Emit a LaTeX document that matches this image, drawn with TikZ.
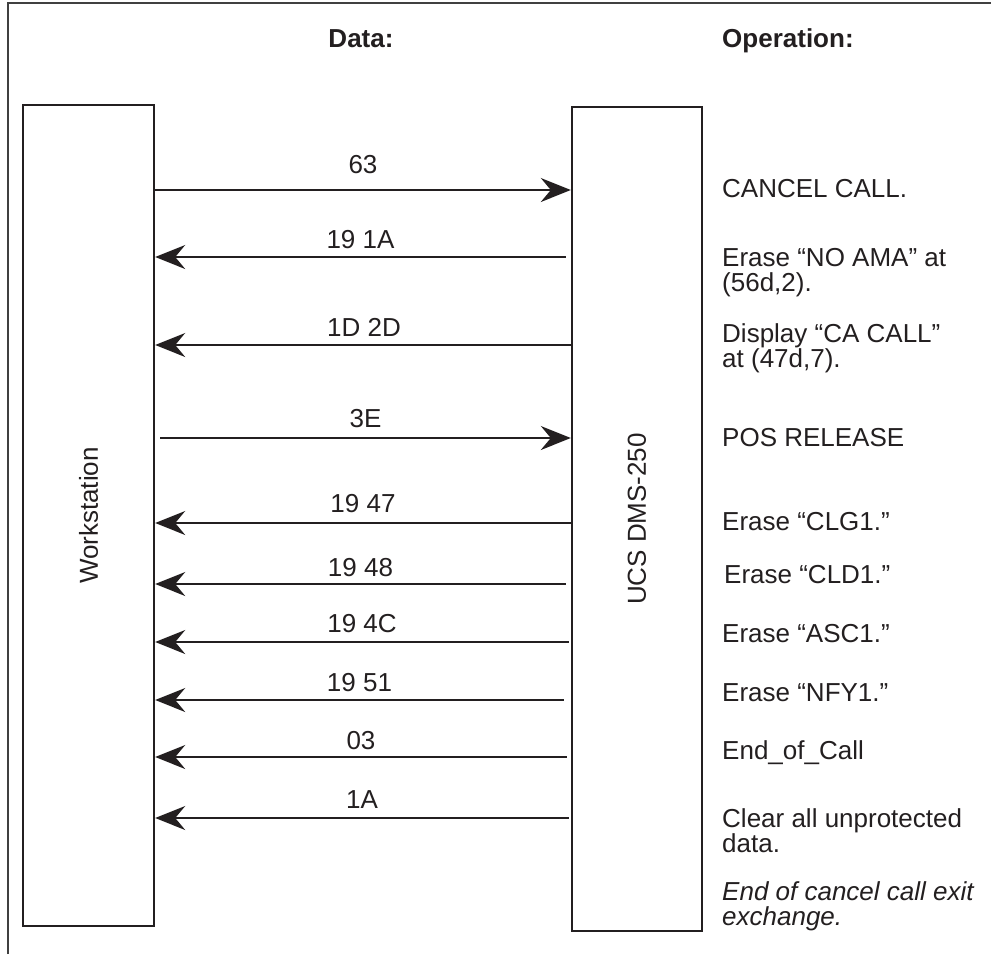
\documentclass[tikz,border=0pt]{standalone}
\usepackage{fontspec}
\usepackage{graphicx}
\setmainfont{Liberation Sans}
\usetikzlibrary{arrows.meta}
\definecolor{ink}{HTML}{231F20}
\tikzset{
  unit/.style={draw=ink, line width=2.4pt, inner sep=0pt, text=ink,
    font=\fontsize{26}{26}\selectfont},
  msg/.style={draw=ink, line width=1.8pt,
    -{Stealth[length=30pt,width=24pt,inset=10pt]}},
  lbl/.style={inner sep=1pt, text=ink, font=\fontsize{26}{26}\selectfont},
  op/.style={anchor=base west, inner sep=0pt, text=ink,
    font=\fontsize{26}{26}\selectfont},
  head/.style={anchor=base, inner sep=0pt, text=ink,
    font=\fontsize{26}{26}\selectfont\bfseries}
}
\begin{document}
\begin{tikzpicture}[x=1pt, y=-1pt]
  \useasboundingbox (0,0) rectangle (991,954);
  % frame
  \draw [black!75, line width=1.5pt] (8,954) -- (8,3) -- (991,3);
  % headers
  \node (hdata) [head] at (361,47) {Data:};
  \node (hop) [head, anchor=base west] at (722,47) {Operation:};
  % units
  \node (ws) [unit, minimum width=131pt, minimum height=821pt]
    at (88.5,515.5) {\rotatebox{90}{Workstation}};
  \node (ucs) [unit, minimum width=130pt, minimum height=824pt]
    at (637,519) {\rotatebox{90}{UCS DMS-250}};
  % workstation to switch
  \foreach \y/\txt/\dx/\gap in {190/63/0/14, 438/3E/5/8} {
    \draw [msg] ([xshift=\dx pt]ws.east |- 0,\y) -- node [lbl, above=\gap pt] {\txt} (ucs.west |- 0,\y);
  }
  % switch to workstation
  \foreach \y/\txt/\dx/\gap in {257/19 1A/-5/6, 345/1D 2D/2/7, 523/19 47/0/8,
      584/19 48/-5/5, 642/19 4C/-2/7, 700/19 51/-7/6, 757/03/-4/5, 818/1A/-2/8} {
    \draw [msg] ([xshift=\dx pt]ucs.west |- 0,\y) -- node [lbl, above=\gap pt] {\txt} (ws.east |- 0,\y);
  }
  % operations
  \node (op1) [op] at (722,197) {CANCEL CALL.};
  \node (op2) [op] at (722,266) {Erase “NO AMA” at};
  \node (op2b) [op] at (722,291) {(56d,2).};
  \node (op3) [op] at (722,342) {Display “CA CALL”};
  \node (op3b) [op] at (722,367) {at (47d,7).};
  \node (op4) [op] at (722,446) {POS RELEASE};
  \node (op5) [op] at (722,530) {Erase “CLG1.”};
  \node (op6) [op] at (724,583) {Erase “CLD1.”};
  \node (op7) [op] at (722,642) {Erase “ASC1.”};
  \node (op8) [op] at (722,701) {Erase “NFY1.”};
  \node (op9) [op] at (722,759) {End\_of\_Call};
  \node (op10) [op] at (722,827) {Clear all unprotected};
  \node (op10b) [op] at (722,852) {data.};
  \node (op11) [op, font=\fontsize{26}{26}\selectfont\itshape] at (722,900) {End of cancel call exit};
  \node (op11b) [op, font=\fontsize{26}{26}\selectfont\itshape] at (722,925) {exchange.};
\end{tikzpicture}
\end{document}
